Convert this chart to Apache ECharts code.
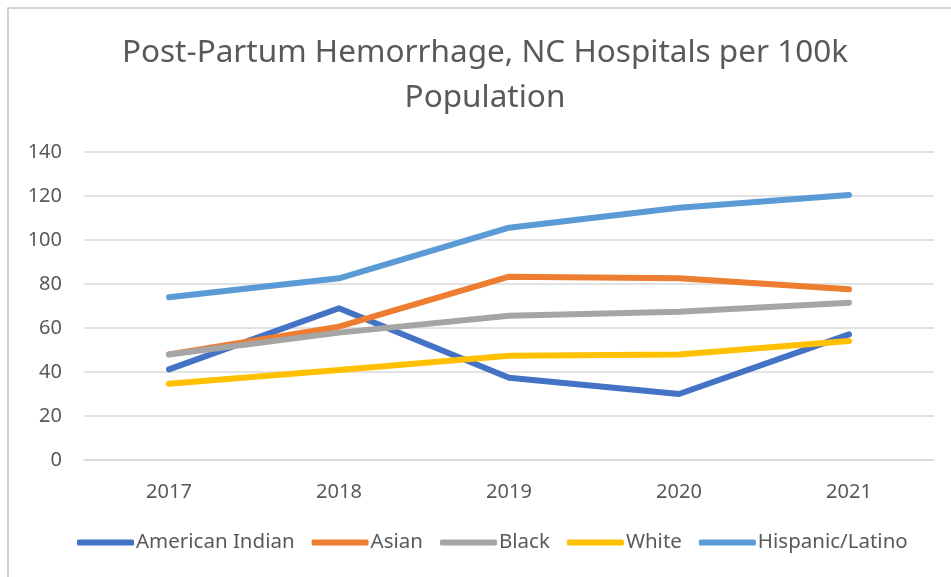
<!DOCTYPE html>
<html>
<head>
<meta charset="utf-8">
<script src="https://cdn.jsdelivr.net/npm/echarts@6/dist/echarts.min.js"></script>
<style>
    html, body { margin: 0; padding: 0; background: #fff; }
    #main { width: 951px; height: 577px; }
</style>
</head>
<body>
<div id="main"></div>
<script>
// 数据
var years = ["2017", "2018", "2019", "2020", "2021"];
var americanIndian = [41.2, 69, 37.4, 30, 57.1];
var asian = [48, 60.6, 83.3, 82.6, 77.6];
var black = [48, 57.9, 65.6, 67.4, 71.5];
var white = [34.7, 40.9, 47.4, 48, 54.1];
var hispanic = [74, 82.6, 105.6, 114.7, 120.5];
var seriesNames = ["American Indian", "Asian", "Black", "White", "Hispanic/Latino"];
var seriesColors = ["#4472C4", "#ED7D31", "#A5A5A5", "#FFC000", "#5B9BD5"];
var titleLines = ["Post-Partum Hemorrhage, NC Hospitals per 100k", "Population"];

(function() {
    var myChart = echarts.init(document.getElementById("main"));
    var font = "'Noto Sans', 'Open Sans', sans-serif";
    var textColor = "#595959";

    function line(name, data, color) {
        return {
            name: name,
            type: 'line',
            data: data,
            showSymbol: false,
            symbol: 'none',
            lineStyle: { width: 6, color: color, cap: 'round', join: 'round' },
            itemStyle: { color: color }
        };
    }

    function titleLine(text, y) {
        return {
            type: 'text',
            x: 485,
            y: y,
            style: {
                text: text,
                fill: textColor,
                font: "31.5px 'Noto Sans', sans-serif",
                align: 'center',
                verticalAlign: 'middle'
            }
        };
    }

    var option = {
        animation: false,
        color: seriesColors,
        graphic: [{
            // 外边框
            type: 'polyline',
            shape: { points: [[8, 577], [8, 8], [951, 8]] },
            style: { stroke: '#c4c4c4', lineWidth: 1.5, fill: null }
        },
            titleLine(titleLines[0], 53),
            titleLine(titleLines[1], 98)
        ],
        legend: {
            bottom: 19,
            left: 72,
            itemWidth: 57,
            itemHeight: 6,
            itemGap: 17,
            icon: 'roundRect',
            textStyle: { color: textColor, fontFamily: font, fontSize: 20.5, padding: [0, 0, 0, -3] },
            data: seriesNames
        },
        grid: {
            left: 84,
            right: 17,
            top: 152,
            bottom: 117,
            containLabel: false
        },
        xAxis: {
            type: 'category',
            data: years,
            boundaryGap: true,
            axisTick: { show: false },
            axisLine: { lineStyle: { color: '#d9d9d9', width: 1.5 } },
            axisLabel: { color: textColor, fontFamily: font, fontSize: 20, margin: 22 }
        },
        yAxis: {
            type: 'value',
            min: 0,
            max: 140,
            interval: 20,
            axisLine: { show: false },
            axisTick: { show: false },
            axisLabel: { color: textColor, fontFamily: font, fontSize: 20, margin: 22 },
            splitLine: { lineStyle: { color: '#d9d9d9', width: 1.5 } }
        },
        series: [
            line(seriesNames[0], americanIndian, seriesColors[0]),
            line(seriesNames[1], asian, seriesColors[1]),
            line(seriesNames[2], black, seriesColors[2]),
            line(seriesNames[3], white, seriesColors[3]),
            line(seriesNames[4], hispanic, seriesColors[4])
        ]
    };

    myChart.setOption(option);

    window.addEventListener("resize", function() {
        myChart.resize();
    });
})();
</script>
</body>
</html>
